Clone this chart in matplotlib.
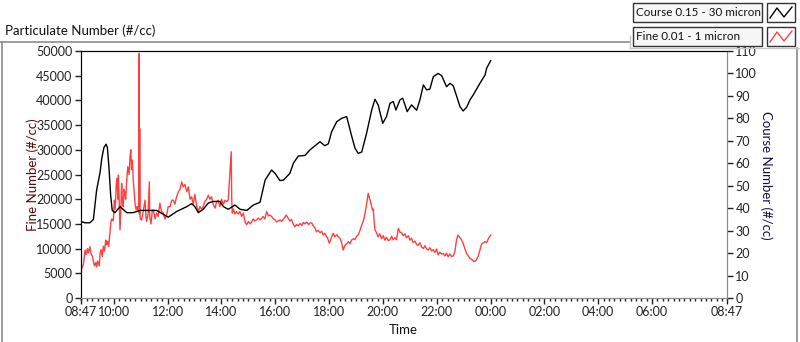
import matplotlib
matplotlib.use("Agg")
import matplotlib.pyplot as plt
from matplotlib.lines import Line2D
from matplotlib.patches import Rectangle
import pandas as pd

plt.rcParams['font.family'] = ['Lato', 'DejaVu Sans']

start = pd.Timestamp("2020-01-01 08:47")
end = start + pd.Timedelta(hours=24)

# Course 0.15 - 30 micron (right axis); time in hours after 08:47
course_hours = [0.0, 0.0, 0.15, 0.33, 0.46, 0.58, 0.71, 0.77, 0.85, 0.93, 0.98, 1.04, 1.10, 1.16,
                1.26, 1.45, 1.70, 1.94, 2.19, 2.81, 3.24, 3.55, 3.93, 4.11, 4.23, 4.36, 4.54, 4.73,
                4.91, 5.16, 5.29, 5.47, 5.72, 5.91, 6.16, 6.40, 6.65, 6.84, 7.08, 7.21, 7.39, 7.52,
                7.76, 7.89, 8.07, 8.32, 8.51, 8.88, 9.06, 9.19, 9.31, 9.50, 9.68, 9.87, 10.06, 10.18,
                10.30, 10.43, 10.61, 10.80, 10.92, 11.04, 11.21, 11.35, 11.48, 11.60, 11.70, 11.85,
                11.95, 12.12, 12.28, 12.47, 12.59, 12.72, 12.84, 12.96, 13.09, 13.27, 13.40, 13.58,
                13.71, 13.83, 13.96, 14.08, 14.20, 14.33, 14.45, 14.57, 14.82, 15.01, 15.07, 15.22]
course_vals = [0, 34, 33.5, 33.5, 35, 48, 56, 62, 67, 68.5, 67, 58, 46, 39,
               38, 40.7, 38, 38, 39, 39, 36, 38.5, 40.7, 42, 40.7, 38, 39.5, 42.3,
               43, 43, 40.7, 39.5, 41.4, 39.5, 39, 41.4, 42.6, 52.5, 57, 55.5, 52.3, 52.5,
               55.5, 60, 63.2, 63.5, 66, 69.6, 67.8, 68.7, 74, 78.5, 80, 80.8, 71.9, 66.7,
               64.4, 65, 73.4, 83.7, 88.5, 86, 77.8, 80.8, 86.7, 87.5, 83.7, 88.2,
               89, 83, 86, 83.6, 88.2, 94.9, 92.7, 93, 98.6, 100, 99, 94.1,
               95.6, 94.5, 89.7, 85.2, 83.3, 85, 88.2, 90.4, 95.6, 99.3, 102.3, 105.7]

# Fine 0.01 - 1 micron (left axis)
fine_hours = [0.00, 0.03, 0.09, 0.15, 0.19, 0.24, 0.27, 0.33, 0.37, 0.42, 0.46, 0.50, 0.55, 0.58,
              0.62, 0.68, 0.71, 0.75, 0.79, 0.83, 0.87, 0.92, 0.95, 0.99, 1.03, 1.08, 1.11, 1.14,
              1.20, 1.24, 1.27, 1.31, 1.34, 1.37, 1.39, 1.42, 1.45, 1.48, 1.51, 1.54, 1.57, 1.60,
              1.63, 1.66, 1.70, 1.74, 1.79, 1.82, 1.85, 1.88, 1.91, 1.94, 1.98, 2.01, 2.05, 2.09,
              2.14, 2.16, 2.17, 2.18, 2.19, 2.20, 2.25, 2.31, 2.38, 2.41, 2.44, 2.49, 2.54, 2.55,
              2.60, 2.65, 2.69, 2.75, 2.81, 2.87, 2.93, 2.99, 3.06, 3.12, 3.18, 3.24, 3.31, 3.37,
              3.43, 3.49, 3.55, 3.62, 3.68, 3.74, 3.80, 3.86, 3.93, 3.99, 4.05, 4.11, 4.17, 4.23,
              4.30, 4.36, 4.42, 4.48, 4.54, 4.60, 4.67, 4.73, 4.79, 4.85, 4.91, 4.98, 5.04, 5.10,
              5.16, 5.22, 5.29, 5.35, 5.41, 5.47, 5.53, 5.58, 5.60, 5.62, 5.66, 5.72, 5.78, 5.84,
              5.90, 5.97, 6.03, 6.09, 6.15, 6.22, 6.28, 6.34, 6.40, 6.46, 6.52, 6.59, 6.65, 6.71,
              6.77, 6.83, 6.90, 6.96, 7.02, 7.08, 7.15, 7.21, 7.27, 7.33, 7.39, 7.45, 7.52, 7.57,
              7.62, 7.69, 7.76, 7.82, 7.88, 7.95, 8.01, 8.07, 8.14, 8.20, 8.26, 8.32, 8.38, 8.45,
              8.51, 8.57, 8.63, 8.69, 8.75, 8.81, 8.88, 8.94, 9.00, 9.06, 9.12, 9.17, 9.22, 9.28,
              9.33, 9.37, 9.43, 9.50, 9.56, 9.62, 9.68, 9.74, 9.80, 9.86, 9.93, 9.99, 10.05, 10.12,
              10.18, 10.24, 10.30, 10.36, 10.43, 10.49, 10.55, 10.61, 10.67, 10.70, 10.74, 10.80,
              10.83, 10.86, 10.89, 10.92, 10.98, 11.04, 11.10, 11.17, 11.23, 11.29, 11.35, 11.42,
              11.48, 11.54, 11.60, 11.66, 11.72, 11.79, 11.85, 11.91, 11.97, 12.03, 12.09, 12.16,
              12.22, 12.28, 12.34, 12.41, 12.47, 12.53, 12.59, 12.66, 12.72, 12.78, 12.84, 12.90,
              12.96, 13.03, 13.09, 13.15, 13.21, 13.27, 13.33, 13.40, 13.46, 13.52, 13.58, 13.64,
              13.70, 13.77, 13.83, 13.89, 13.95, 14.00, 14.05, 14.11, 14.18, 14.25, 14.32, 14.38,
              14.45, 14.52, 14.60, 14.68, 14.76, 14.82, 14.88, 14.95, 15.01, 15.07, 15.14, 15.22]
fine_vals = [6000, 6000, 6800, 9700, 8800, 10000, 9100, 10400, 9000, 8500, 7350, 6500, 7200, 6300,
             7500, 6500, 9100, 9800, 8400, 10500, 9500, 11700, 10800, 11500, 10400, 13500, 15400, 16000,
             15600, 19800, 18000, 23000, 24200, 20000, 24900, 19000, 13800, 18000, 23200, 19500, 18500, 22000,
             21200, 20000, 24000, 26600, 25000, 28500, 30000, 26000, 27900, 24000, 21200, 19000, 17800, 18500,
             17500, 49500, 17000, 34300, 17500, 16000, 15800, 17500, 19800, 16500, 15500, 17000, 23500, 16500,
             15000, 17800, 17800, 16000, 17200, 16500, 19200, 17500, 17200, 16000, 16800, 18500, 18500, 19800,
             19800, 19000, 20500, 21500, 22000, 23500, 22500, 23000, 21500, 22500, 20000, 20500, 19000, 21000,
             18500, 17500, 18500, 18000, 18500, 19500, 20000, 20800, 20000, 20500, 19000, 18200, 19500, 19800,
             18500, 20000, 19000, 19800, 19500, 19800, 25200, 29600, 20000, 17200, 18000, 17000, 17500, 17000,
             17500, 16500, 17200, 15500, 14800, 15500, 15000, 15400, 16000, 15600, 15800, 16200, 15800, 16100,
             16500, 16000, 17500, 16600, 16800, 16500, 16000, 15800, 15400, 15600, 15800, 15500, 16000, 16300,
             16800, 16200, 15600, 15900, 15000, 14400, 14900, 14600, 15100, 14700, 15300, 15000, 15400, 14900,
             15200, 15200, 14600, 14200, 13400, 13700, 13200, 13500, 12750, 13100, 12500, 12000, 11100, 11800,
             12600, 13100, 12400, 12800, 12400, 12100, 11200, 9700, 10600, 10900, 11400, 11000, 11700, 12000,
             11800, 12500, 12800, 13600, 14800, 15600, 17100, 19000, 21200, 20600, 19800, 18500,
             17800, 18000, 15500, 13800, 13200, 12400, 13000, 12000, 12600, 11700, 12300, 11600,
             11800, 12500, 11800, 12200, 11800, 14100, 13300, 13200, 12600, 13000, 12200, 12600,
             11700, 12100, 11200, 11500, 10800, 10700, 11200, 10300, 10000, 10600, 9900, 9700,
             10200, 9500, 9800, 9200, 9900, 8700, 9300, 8900, 9000, 8500, 9100, 8350,
             8900, 8400, 8500, 9400, 11700, 12750, 12400, 12000, 11300, 10200, 9050, 8600,
             8000, 7800, 7350, 7600, 8500, 9700, 10900, 11200, 11400, 11200, 12100, 12750]

fine_ticks = list(range(0, 50001, 5000))
course_ticks = list(range(0, 111, 10))
time_labels = ["08:47", "10:00", "12:00", "14:00", "16:00", "18:00", "20:00",
               "22:00", "00:00", "02:00", "04:00", "06:00", "08:47"]

W, H = 800, 342
fig = plt.figure(figsize=(W / 100, H / 100), dpi=100)
fig.patch.set_facecolor("white")

L, R, T, B = 81, 727, 51, 298
ax = fig.add_axes([L / W, 1 - B / H, (R - L) / W, (B - T) / H])
ax2 = ax.twinx()

ft = [start + pd.Timedelta(hours=h) for h in fine_hours]
ct = [start + pd.Timedelta(hours=h) for h in course_hours]
ax.plot(ft, fine_vals, color="#ff4040", lw=1.0, zorder=2)
ax2.plot(ct, course_vals, color="black", lw=1.0, zorder=3)

ax.set_xlim(start, end)
ax.set_ylim(0, 50000)
ax2.set_ylim(0, 110)

major = [start] + [pd.Timestamp("2020-01-01 10:00") + pd.Timedelta(hours=2 * i) for i in range(11)] + [end]
ax.set_xticks(major)
ax.set_xticklabels(time_labels)
minor = pd.date_range(pd.Timestamp("2020-01-01 08:48"), end, freq="12min")
ax.set_xticks(minor, minor=True)

ax.set_yticks(fine_ticks)
ax.set_yticklabels([str(v) for v in fine_ticks])
ax2.set_yticks(course_ticks)
ax2.set_yticklabels([str(v) for v in course_ticks])

for a in (ax, ax2):
    a.tick_params(axis="both", which="major", length=4, width=1, labelsize=9, pad=2, colors="#222222")
    a.tick_params(axis="x", which="minor", length=2.5, width=1, color="#222222")

for a in (ax, ax2):
    a.spines["top"].set_color("black")
    a.spines["left"].set_color("black")
    a.spines["bottom"].set_color("#8c8c8c")
    a.spines["right"].set_color("#8c8c8c")

fig.text(33 / W, 1 - 175 / H, "Fine Number (#/cc)", rotation=90, ha="center", va="center",
         fontsize=9.5, color="#5a0a0a")
fig.text(766 / W, 1 - 175 / H, "Course Number (#/cc)", rotation=270, ha="center", va="center",
         fontsize=9.5, color="#10104a")
fig.text(403 / W, 1 - 330 / H, "Time", ha="center", va="center", fontsize=9.5, color="#111111")
fig.text(5 / W, 1 - 31 / H, "Particulate Number (#/cc)", ha="left", va="center", fontsize=9.5,
         color="#111111")

# panel frame
grey = "#8c8c8c"
fig.add_artist(Line2D([0, 630 / W], [1 - 42 / H, 1 - 42 / H], color=grey, lw=1.2))
fig.add_artist(Line2D([1.5 / W, 1.5 / W], [1 - 42 / H, 0], color=grey, lw=1.2))
fig.add_artist(Line2D([797 / W, 797 / W], [1 - 48 / H, 0], color=grey, lw=1.2))
fig.add_artist(Line2D([630 / W, 800 / W], [1 - 48 / H, 1 - 48 / H], color="#c8c8c8", lw=1.0))
fig.add_artist(Line2D([630 / W, 630 / W], [1 - 48 / H, 1 - 36 / H], color="#c8c8c8", lw=1.0))

# legend
entries = [("Course 0.15 - 30 micron", "black", 3), ("Fine 0.01 - 1 micron", "#ff4040", 27)]
for label, col, y0 in entries:
    fig.add_artist(Rectangle((633 / W, 1 - (y0 + 19) / H), 129 / W, 19 / H, facecolor="#f7f7f7",
                             edgecolor="#333333", lw=1.0))
    fig.text(636 / W, 1 - (y0 + 10) / H, label, ha="left", va="center", fontsize=8.4, color="#111111")
    fig.add_artist(Rectangle((767 / W, 1 - (y0 + 19) / H), 28 / W, 19 / H, facecolor="white",
                             edgecolor="#333333", lw=1.0))
    zx = [770, 777, 784, 792]
    zy = [y0 + 15, y0 + 5, y0 + 14, y0 + 4]
    fig.add_artist(Line2D([v / W for v in zx], [1 - v / H for v in zy], color=col, lw=1.0))

fig.savefig("out.png", dpi=100, facecolor="white")
